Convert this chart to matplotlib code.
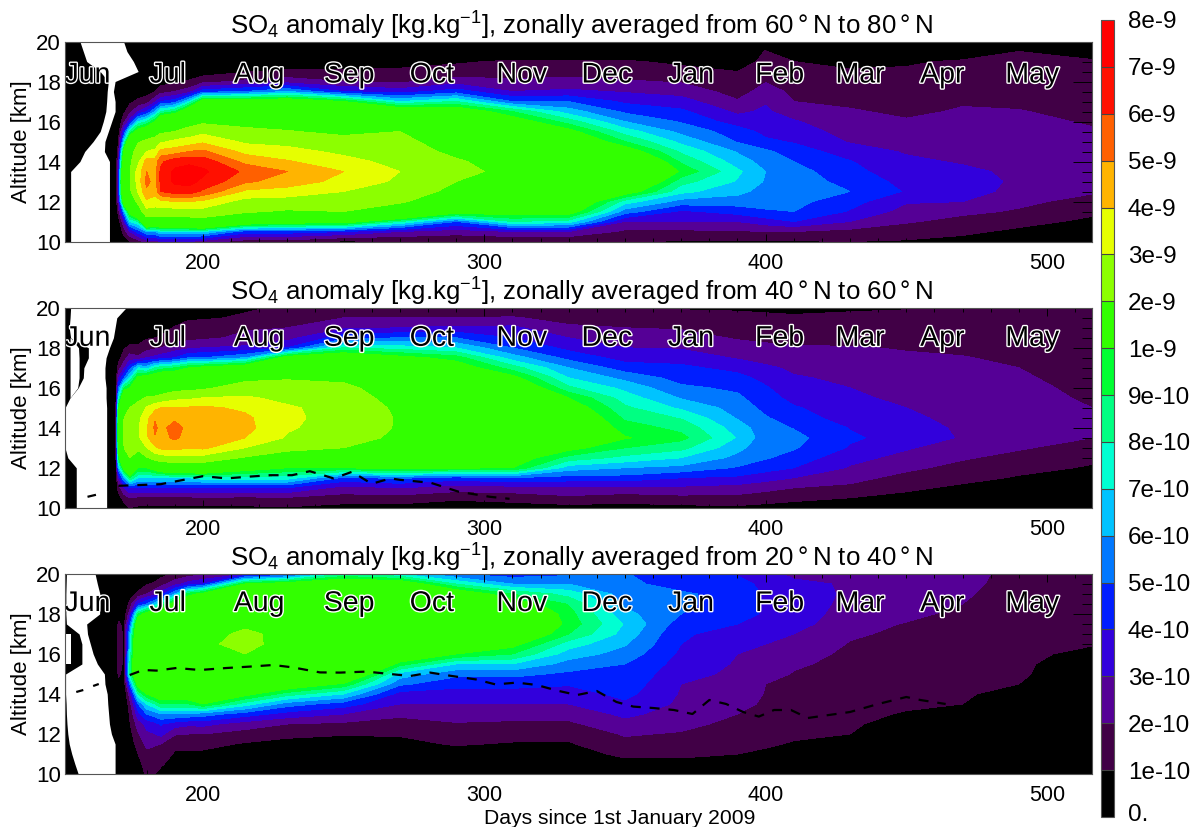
import numpy as np
import matplotlib
matplotlib.use('Agg')
from matplotlib import pyplot as plt
from matplotlib import patheffects as pe
from matplotlib.transforms import ScaledTranslation

plt.rcParams['font.family'] = ['Liberation Sans', 'DejaVu Sans']
plt.rcParams['mathtext.default'] = 'regular'

W, H = 1195, 827
NAN = np.nan

# altitude grid [km], every row below has one value per altitude, unit 1e-10 kg/kg
ALT = [10, 10.5, 11, 11.5, 12, 12.5, 13, 13.5, 14, 14.5, 15, 15.5, 16, 16.5, 17, 17.5, 18, 18.5, 19, 19.5, 20]
EMPTY_DAYS = [151, 160, 169]
DAYS = [170, 172, 174, 177, 180, 183, 185, 190, 195, 200, 215, 230, 250, 270, 290, 310, 330, 350, 370, 390, 400, 410, 430, 450, 470, 490, 516]

SO4_60_80 = [
    [0, 0, .5, 1.5, 2.5, 3.5, 3.5, 3, 2.5, 1.5, 1, .5, .2, 0, 0, 0, 0, 0, 0, 0, 0],
    [.3, 1.5, 3, 6, 12, 15, 16, 15, 13, 11, 7, 4, 1.8, .8, .3, 0, 0, 0, 0, 0, 0],
    [1, 3, 7, 11, 15, 18, 19, 19, 18, 16, 13, 8, 3.5, 1.6, .8, .3, 0, 0, 0, 0, 0],
    [1.5, 4.5, 8, 15, 22, 31, 34, 34, 28, 24, 19, 11, 7, 3, 1.2, .5, 0, 0, 0, 0, 0],
    [2.5, 6, 15, 26, 38, 48, 53, 50, 44, 30, 22, 12, 8, 4, 1.5, .6, .1, 0, 0, 0, 0],
    [2.5, 6, 14, 25, 36, 43, 46, 46, 44, 32, 24, 15, 10, 6, 2.8, 1, .3, .1, 0, 0, 0],
    [3, 7, 14, 25, 37, 60, 62, 62, 58, 43, 28, 18, 13, 8, 4, 1.5, .6, .2, 0, 0, 0],
    [3, 7, 15, 25, 40, 65, 72, 72, 66, 45, 32, 20, 14, 9, 4.5, 2, .8, .3, 0, 0, 0],
    [3, 7, 15, 26, 40, 66, 73, 74, 68, 50, 34, 24, 15, 12, 7, 2.5, 1.1, .4, .1, 0, 0],
    [2.5, 7, 16, 26, 38, 58, 68, 72, 66, 52, 38, 27, 18, 13, 11, 4.5, 1.6, .5, .2, .1, 0],
    [1.5, 4.5, 12, 21, 26, 38, 52, 58, 47, 37, 28, 22, 17, 14, 11, 5, 2.2, .9, .3, .1, 0],
    [1.5, 4.5, 11, 19, 25, 36, 45, 50, 41, 33, 27, 20.5, 16, 14, 11.5, 6, 2.5, 1.2, .4, .1, 0],
    [.8, 4, 11, 20, 26, 30, 37, 40, 33, 28, 23, 18, 14, 12, 10, 4, 2, 1.1, .5, .1, 0],
    [1, 3, 8, 15, 21, 26, 28, 30, 27, 24, 22, 20, 15, 12, 7, 3.5, 1.8, 1.1, .8, .1, 0],
    [1, 2.5, 5, 11, 14, 17, 20, 23, 21, 18, 16, 14, 13, 11.5, 8, 4.5, 2.5, 1.3, .9, .2, 0],
    [1, 3, 8, 11, 13, 15, 16, 17, 16, 15, 14, 12.5, 11, 9, 5, 3, 2.2, 1.5, 1.1, .3, 0],
    [1, 3, 7.5, 11, 12.5, 13.5, 14.5, 15, 14.5, 13.5, 12, 10.5, 8.5, 6.5, 5, 3.2, 2.3, 1.6, 1.1, .3, 0],
    [1.1, 1.8, 3, 5.5, 7.5, 11, 13, 14, 13, 11, 9, 7.5, 6, 4.8, 3.8, 2.9, 2.1, 1.6, 1.1, .3, 0],
    [.9, 1.8, 3, 3.8, 5.6, 7.3, 8.4, 9.8, 8.8, 7.8, 6.7, 5.7, 4.9, 4.2, 3.4, 2.6, 1.9, 1.3, .8, .2, 0],
    [.9, 1.9, 3, 4.4, 5.5, 6.3, 6.9, 7.2, 6.5, 5.9, 4.9, 4.5, 3.5, 2.8, 2.1, 1.6, 1.2, 1, .6, .2, 0],
    [.9, 2, 3.5, 4.9, 5.3, 5.6, 5.9, 6, 5.6, 5.2, 4.2, 3.7, 3.4, 3.15, 2.9, 2.4, 1.95, 1.5, 1.2, 1.05, .6],
    [.9, 2, 4, 5, 5.3, 5.5, 5.6, 5.4, 5, 4.5, 3.9, 3.5, 3.1, 2.5, 2, 1.8, 1.5, 1.3, 1, .3, 0],
    [1, 1.7, 3, 3.9, 4.4, 5, 4.6, 4.3, 4.05, 3.5, 2.9, 2.6, 2.3, 2.1, 1.8, 1.5, 1.3, 1.1, .7, .2, 0],
    [.9, 1.5, 2.1, 2.6, 3.1, 3.9, 3.7, 3.4, 3.2, 2.9, 2.6, 2.4, 2.1, 1.8, 1.6, 1.4, 1.2, 1.1, .9, .2, 0],
    [.7, 1.2, 1.7, 2.2, 3, 3.4, 3.5, 3.2, 2.9, 2.8, 2.6, 2.5, 2.3, 2.1, 1.9, 1.7, 1.4, 1.2, 1.1, .5, 0],
    [.3, .8, 1.3, 1.9, 2.2, 2.7, 2.8, 2.8, 2.7, 2.6, 2.5, 2.4, 2.25, 2.05, 1.8, 1.6, 1.4, 1.25, 1.1, 1, 0],
    [.2, .5, .8, 1.2, 1.7, 2.1, 2.4, 2.5, 2.5, 2.4, 2.3, 2.1, 1.9, 1.7, 1.5, 1.4, 1.3, 1.2, 1.1, .6, 0],
]

SO4_40_60 = [
    [0, .5, 1.5, 3, 6, 9, 10.5, 11, 11, 10.5, 9.5, 7, 5, 3, 1.5, .6, .2, 0, 0, 0, 0],
    [.5, 1.5, 3, 6, 11, 17, 20, 21, 21, 20, 17, 13, 9, 5, 2.8, 1.6, .9, .3, 0, 0, 0],
    [1, 2, 4, 9, 14, 20, 23, 24, 24, 23, 20, 14, 10, 7, 4.5, 2.5, 1.2, .5, .1, 0, 0],
    [.8, 1.8, 4, 7, 10, 15, 22, 28, 29, 27, 23, 18, 14, 10.5, 7, 2.2, 1.2, .6, .2, 0, 0],
    [.8, 1.8, 4, 7, 10, 19, 30, 38, 39, 36, 31, 20.5, 14.5, 11, 6.5, 3, 1.6, .9, .3, 0, 0],
    [.8, 1.8, 4, 7, 11, 23, 38, 49, 52, 49, 37, 21, 15, 11.5, 8, 3.3, 1.8, 1, .4, .05, 0],
    [.8, 1.8, 4, 7, 12, 25, 42, 46, 47, 45, 40, 22, 16, 12, 8.5, 3.5, 2, 1.1, .5, .1, 0],
    [.7, 1.8, 4, 7, 13, 26, 43, 52, 54, 48, 40, 27, 16, 12, 9, 4, 2.5, 1.5, 1.1, .4, .1],
    [.7, 1.8, 4, 7, 13, 26, 41, 46, 47, 45, 41, 28, 17, 13, 10, 5, 2.8, 1.7, 1.3, .9, .2],
    [.8, 1.9, 4, 7.5, 13, 26, 42, 46, 48, 46, 42, 30, 18, 13.5, 10.5, 5, 3, 1.8, 1.4, .9, .3],
    [.8, 1.8, 4, 7.5, 11, 19, 30, 40, 43, 42, 38, 31, 25, 17, 11.5, 6, 3.2, 2.2, 1.9, 1.1, .9],
    [.9, 1.9, 4, 7.5, 10, 16, 22, 29, 31, 31.5, 31, 28, 24, 19, 14, 11, 4, 2.6, 2, 1.3, 1.1],
    [.6, 1.6, 2.6, 4.8, 10, 15, 20, 24, 26, 27, 27, 25, 22, 18, 15, 12, 8, 4.6, 2.8, 2, 1],
    [.6, 1.6, 3, 5.2, 10.5, 12, 15, 18, 19, 19, 18, 16, 15, 13, 12, 10.5, 7.5, 5, 3, 2, 1.1],
    [.4, 1.2, 2.5, 4.5, 10.2, 11.5, 12.5, 13.5, 14.5, 15, 14.5, 14, 13, 12, 11, 9.5, 7, 5, 3.2, 2, 1.1],
    [.5, 1.4, 2.6, 5, 10, 11, 12, 13, 13.5, 13.5, 13, 12.5, 12, 10.5, 8.5, 6.5, 5, 4, 3.2, 2.1, 1.1],
    [.6, 1.8, 2.7, 4.6, 6.5, 8.6, 10.5, 11.5, 12, 11.8, 11, 10, 8.2, 7, 6, 4.7, 3.7, 3, 2.2, 1.6, 1.1],
    [.6, 1.5, 2.7, 4.6, 6, 7.7, 9, 10.1, 9.5, 8.8, 8.2, 7.5, 6.7, 5.7, 4.5, 3.6, 3, 2.5, 2, 1.4, .9],
    [.7, 1.7, 2.8, 4, 5.7, 7, 8.3, 9.3, 8.7, 7.9, 6.8, 5.9, 5.2, 4.6, 4.2, 3.6, 2.9, 2.4, 1.9, 1.4, .9],
    [.8, 1.7, 2.6, 3.8, 4.9, 5.7, 6.3, 6.9, 6.5, 5.9, 5.6, 5.2, 4.8, 4.3, 3.7, 2.9, 2.4, 1.9, 1.6, 1.2, .9],
    [.65, 1.5, 2.3, 3.4, 4.4, 5.1, 5.3, 5.45, 5.4, 5.1, 4.7, 4.4, 4.1, 3.7, 3.2, 2.6, 2.2, 1.8, 1.5, 1.15, .85],
    [.5, 1.3, 2, 3, 4, 4.6, 5.1, 5.3, 4.95, 4.4, 4.1, 3.7, 3.4, 3.1, 2.8, 2.4, 2.1, 1.7, 1.4, 1.1, .8],
    [.4, 1, 1.8, 2.3, 2.9, 3.3, 3.9, 4.15, 3.95, 3.6, 3.4, 3.2, 3, 2.8, 2.55, 2.3, 2.05, 1.7, 1.4, 1.15, .9],
    [.2, .7, 1.2, 1.7, 2.2, 2.7, 3.1, 3.6, 3.4, 3.2, 3, 2.75, 2.55, 2.4, 2.3, 2.1, 1.95, 1.7, 1.4, 1.2, .95],
    [.1, .4, .8, 1.3, 1.7, 2.1, 2.5, 2.9, 2.85, 2.7, 2.6, 2.55, 2.5, 2.4, 2.2, 2.05, 1.8, 1.6, 1.4, 1.2, .95],
    [0, .2, .5, .9, 1.3, 1.7, 2.1, 2.4, 2.5, 2.4, 2.3, 2.25, 2.2, 2.1, 2, 1.8, 1.6, 1.45, 1.3, 1.15, 1],
    [0, .1, .3, .6, .9, 1.2, 1.6, 2, 2.2, 2.1, 2, 1.9, 1.8, 1.7, 1.6, 1.5, 1.4, 1.3, 1.2, 1.1, 1.05],
]

SO4_20_40 = [
    [0, 0, 0, 0, 0, 0, 0, 0, 0, .6, 1.2, 1.4, 1.5, 1.5, 1.5, 1.2, .5, 0, 0, 0, 0],
    [0, 0, 0, 0, 0, 0, 0, 0, 0, .3, .6, .8, .8, .8, .8, .7, .3, 0, 0, 0, 0],
    [0, 0, 0, .3, .6, .9, 1.1, 1.5, 2.5, 5, 8, 8, 7, 6.5, 6, 4.5, 2.5, 1.3, .5, .1, 0],
    [.3, .7, 1, 1.5, 1.9, 2.5, 3.6, 5, 8, 11, 13, 14, 14, 14, 13.5, 12, 9, 4, 1.3, .3, 0],
    [1.2, 1.4, 1.8, 2.2, 2.8, 3.3, 5, 7, 10, 12, 14, 15, 15, 15, 14, 13, 11, 5, 2, .9, .1],
    [1, 1.2, 1.6, 2.1, 3, 3.7, 5.5, 8, 11, 12.5, 14.5, 15.2, 15.2, 15.2, 14.5, 13.5, 11.5, 6.5, 2.7, 1.2, .3],
    [.8, 1.1, 1.5, 2, 3.3, 4.1, 6, 9, 11.5, 13, 15, 15.5, 15.5, 15.5, 15, 14, 12, 8, 3.5, 1.6, .6],
    [.4, .7, .9, 1.2, 2.1, 3.5, 6, 9, 11.5, 13, 15, 16, 16, 16, 15.5, 14.5, 13, 11, 6, 2.6, 1.2],
    [.5, .8, .9, 1.2, 2, 3.2, 5.8, 9, 11.5, 13, 15, 17, 18, 17.5, 17, 15.5, 14, 12, 9.5, 3.5, 1.5],
    [.4, .6, .8, 1.3, 2, 3.3, 5.5, 10, 12, 14, 16, 19, 20, 19, 18, 16, 14, 12, 10.5, 4, 1.8],
    [.1, .2, .4, .9, 1.6, 2.5, 4.5, 7.5, 10.5, 12, 14, 17, 20, 21.5, 21, 19, 16, 14, 12, 10, 3],
    [0, .1, .2, .6, 1.3, 2, 3.6, 5.5, 8.5, 11.5, 14, 16, 17, 18, 18.5, 19.5, 18, 15, 13, 11, 4],
    [0, 0, .1, .4, 1.1, 1.8, 3, 4.5, 7, 9.8, 13, 15, 16, 17, 17.5, 18, 19, 16, 14, 12, 8],
    [0, 0, .1, .7, 1.1, 1.6, 2.2, 3, 3.6, 5.2, 6.6, 9.5, 12, 14, 15, 15.5, 15, 14, 13, 11.5, 7],
    [.1, .2, .5, 1.1, 1.5, 1.9, 2.5, 3, 3.6, 4.3, 5.3, 7, 10, 12, 13, 14, 14, 13, 11.5, 8, 5],
    [.2, .4, .6, .9, 1.4, 1.8, 2.4, 3, 3.6, 4.3, 5.3, 7, 9, 10.5, 12, 13, 12.5, 11, 9, 6, 4.5],
    [.1, .4, .6, .9, 1.3, 1.8, 2.4, 3, 3.5, 4.1, 4.8, 5.6, 6.5, 7.5, 9, 9.6, 9.4, 8.9, 7.6, 6, 4.8],
    [.3, .7, 1.2, 1.7, 2.1, 2.7, 3.2, 3.8, 4.3, 4.6, 4.8, 5, 5.6, 6.1, 6.6, 6.9, 6.3, 5.8, 5.5, 5.3, 5.1],
    [.3, .7, 1.2, 1.6, 1.9, 2.3, 2.6, 2.8, 2.9, 3, 3.3, 3.6, 3.8, 4, 4.1, 4.5, 5, 5.2, 5.2, 4.5, 4],
    [.3, .6, 1, 1.2, 1.4, 1.7, 2, 2.3, 2.5, 2.7, 2.8, 2.9, 3, 3.3, 3.7, 4, 4.3, 4.5, 4.5, 4.4, 3.9],
    [.2, .45, .8, 1.15, 1.3, 1.5, 1.7, 1.85, 1.95, 2, 2.3, 2.6, 2.8, 3, 3.4, 3.7, 3.9, 3.9, 3.9, 3.7, 3.3],
    [.1, .3, .5, .9, 1.2, 1.4, 1.5, 1.7, 1.8, 1.9, 1.95, 2.1, 2.3, 2.6, 3, 3.4, 3.6, 3.6, 3.6, 3.2, 2.8],
    [0, .1, .3, .7, 1, 1.2, 1.3, 1.4, 1.5, 1.6, 1.7, 1.8, 1.85, 1.95, 2.1, 2.3, 2.5, 2.7, 2.8, 2.9, 2.9],
    [0, 0, 0, 0, .1, .4, .9, 1.2, 1.3, 1.4, 1.5, 1.6, 1.7, 1.8, 1.85, 1.95, 2.2, 2.4, 2.5, 2.5, 2.5],
    [0, 0, 0, 0, 0, 0, .4, 1, 1.2, 1.3, 1.35, 1.4, 1.5, 1.55, 1.6, 1.7, 1.8, 2, 2.1, 2.2, 2.2],
    [0, 0, 0, 0, 0, 0, 0, 0, .4, 1, 1.2, 1.3, 1.35, 1.4, 1.45, 1.5, 1.55, 1.6, 1.65, 1.7, 1.8],
    [0, 0, 0, 0, 0, 0, 0, 0, 0, 0, 0, 0, .6, 1.1, 1.2, 1.25, 1.3, 1.35, 1.4, 1.45, 1.5],
]

# no data windows (first day, last day) per altitude, drawn white
GAPS_60_80 = [
    ([153, 153, 153, 153, 153, 153, 153, 153, 156.3, 158, 161, 163.5, 164.6, 165.5, 165.8, 166, 166.4, 163.5, 158.7, 157.5, 156.3],
     [166.8, 166.8, 166.8, 166.8, 166.8, 166.8, 166.8, 166.8, 166.8, 165, 165.2, 166.4, 167.6, 168.8, 168.8, 168.2, 168.8, 177, 175.3, 173, 171.8]),
]
GAPS_40_60 = [
    ([155, 155, 155, 155, 155, 152, 151, 151, 151, 151, 151, 152.8, 155.7, 157.5, 157.7, 159.3, 159.3, 153, 152.5, 152.8, 153],
     [165.8, 165.8, 165.8, 165.8, 165.8, 165.8, 165.8, 165.8, 165.8, 165.8, 165.8, 165.6, 165.6, 165.2, 165.2, 165.6, 166.8, 168.2, 168.8, 169.4, 172.7]),
    ([NAN, NAN, NAN, NAN, NAN, NAN, NAN, NAN, NAN, NAN, NAN, 152.8, 152.8, 152.8, 152.8, 152.8, 152.8, 152.8, NAN, NAN, NAN],
     [NAN, NAN, NAN, NAN, NAN, NAN, NAN, NAN, NAN, NAN, NAN, 152.8, 155.5, 156, 156, 156, 155.8, 153, NAN, NAN, NAN]),
]
GAPS_20_40 = [
    ([155.7, 154.5, 153.4, 152.5, 152, 151.7, 151.5, 151.4, 151.2, 151.2, 151.2, 157, 157, 157, 156, 151.5, 151.3, 151.3, 151.3, 151.4, 151.5],
     [168.8, 168.8, 168.8, 168.8, 167.5, 166.8, 166.5, 166.2, 166, 165.2, 165, 162.5, 161, 160, 159, 158.7, 163.3, 163.4, 163.4, 162.5, 161.7]),
    ([NAN, NAN, NAN, NAN, NAN, NAN, NAN, NAN, NAN, NAN, NAN, 151.2, 151.2, 151.2, 151.2, NAN, NAN, NAN, NAN, NAN, NAN],
     [NAN, NAN, NAN, NAN, NAN, NAN, NAN, NAN, NAN, NAN, NAN, 153, 153, 153, 153, NAN, NAN, NAN, NAN, NAN, NAN]),
]

# tropopause, dashed
TROPO_DAYS_40_60 = [159, 162, 165, 170, 176, 185, 192.5, 200, 208.5, 215.6, 224, 231.7, 238, 246.5, 253, 260, 266.7, 270, 281, 291, 302, 309]
TROPO_ALT_40_60 = [10.55, 10.65, NAN, 11.1, 11.13, 11.18, 11.38, 11.58, 11.47, 11.55, 11.63, 11.63, 11.83, 11.47, 11.8, 11.2, 11.47, 11.4, 11.25, 10.8, 10.55, 10.45]
TROPO_DAYS_20_40 = [155, 157.5, 159, 161, 163, 165, 174, 178.8, 183.5, 190.6, 198.9, 208.4, 216.7, 225, 232, 241.6, 248.7, 258.2, 266.5, 273.7, 280.8, 288.5, 297, 304, 311.6, 318.7, 325.9, 333, 340, 347, 353, 360, 367.4, 374, 380, 386, 392, 397.6, 403, 409, 415, 425, 430, 440, 450, 455, 464]
TROPO_ALT_20_40 = [14.1, 14.2, NAN, 14.4, 14.5, NAN, 14.95, 15.2, 15.17, 15.3, 15.2, 15.3, 15.37, 15.45, 15.33, 15.08, 15.07, 15.12, 15.0, 14.9, 15.07, 14.9, 14.73, 14.48, 14.57, 14.45, 14.17, 13.95, 14.15, 13.6, 13.37, 13.3, 13.2, 13.0, 13.7, 13.5, 13.1, 12.87, 13.2, 13.2, 12.8, 13.0, 13.1, 13.5, 13.85, 13.7, 13.5]

LATS = ['60', '40', '20']
LATS_TOP = ['80', '60', '40']

MONTHS = ['Jun', 'Jul', 'Aug', 'Sep', 'Oct', 'Nov', 'Dec', 'Jan', 'Feb', 'Mar', 'Apr', 'May']
MONTH_DAYS = [159, 187.5, 220, 252, 281.4, 313.4, 343.6, 373.5, 405, 433.6, 462.8, 494.8]
MONTH_ALT = [18.3, 18.45, 18.5]

LEVELS = [0, 1, 2, 3, 4, 5, 6, 7, 8, 9, 10, 20, 30, 40, 50, 60, 70, 80]
LEVEL_LABELS = ['0.', '1e-10', '2e-10', '3e-10', '4e-10', '5e-10', '6e-10', '7e-10', '8e-10', '9e-10',
                '1e-9', '2e-9', '3e-9', '4e-9', '5e-9', '6e-9', '7e-9', '8e-9']
COLORS = ['#000000', '#410046', '#550096', '#3200dc', '#001eff', '#0078ff', '#00c3ff', '#00ffd2', '#00ff82',
          '#00ff32', '#32ff00', '#8cff00', '#e6ff00', '#ffb400', '#ff6000', '#ff1000', '#ff0000']

PANELS = [
    (241.5, SO4_60_80, GAPS_60_80, None, None),
    (507.8, SO4_40_60, GAPS_40_60, TROPO_DAYS_40_60, TROPO_ALT_40_60),
    (774, SO4_20_40, GAPS_20_40, TROPO_DAYS_20_40, TROPO_ALT_20_40),
]

fig = plt.figure(figsize=(W / 100, H / 100), dpi=100)

all_days = np.array(EMPTY_DAYS + DAYS)
for p, (bottom, rows, gaps, tropo_d, tropo_a) in enumerate(PANELS):
    ax = fig.add_axes([65 / W, 1 - bottom / H, 1027 / W, 200 / H])
    z = np.vstack([np.zeros((len(EMPTY_DAYS), len(ALT))), np.array(rows, dtype=float)]).T
    cf = ax.contourf(all_days, ALT, z, levels=LEVELS, colors=COLORS)
    for start, end in gaps:
        ax.fill_betweenx(ALT, start, end, color='white', lw=0, zorder=2)
    if tropo_d is not None:
        ax.plot(tropo_d, tropo_a, color='black', lw=1.6, ls=(0, (4.5, 4)), zorder=3)

    ax.set_xlim(151, 516)
    ax.set_ylim(10, 20)
    ax.set_xticks([200, 300, 400, 500])
    ax.set_xticks(np.arange(160, 516, 10), minor=True)
    ax.set_yticks(np.arange(10, 21, 2))
    ax.set_yticks(np.arange(10, 20.5, .5), minor=True)
    ax.tick_params(axis='x', which='major', direction='in', top=True, length=6, width=.7, labelsize=15.5, pad=8)
    ax.tick_params(axis='x', which='minor', direction='in', top=True, length=3, width=.7)
    ax.tick_params(axis='y', which='major', direction='in', right=True, length=14, width=.7, labelsize=16, pad=3)
    ax.tick_params(axis='y', which='minor', direction='in', right=True, length=7, width=.7)
    for s in ax.spines.values():
        s.set_linewidth(.8)
        s.set_color('#555555')
        s.set_zorder(5)
    ax.set_ylabel('Altitude [km]', fontsize=16, labelpad=3)
    ax.set_title('SO$_4$ anomaly [kg.kg$^{-1}$], zonally averaged from %s$\\,$°$\\,$N to %s$\\,$°$\\,$N' % (LATS[p], LATS_TOP[p]),
                 fontsize=18.6, pad=5, x=.503)
    for m, d in zip(MONTHS, MONTH_DAYS):
        ax.text(d, MONTH_ALT[p], m, fontsize=20.5, ha='center', va='center', color='black', zorder=4,
                path_effects=[pe.withStroke(linewidth=2, foreground='white')])
    if p == 2:
        ax.set_xlabel('Days since 1st January 2009', fontsize=15.2, labelpad=2, x=.54)

cax = fig.add_axes([1101 / W, 1 - 817 / H, 13 / W, 797 / H])
cb = fig.colorbar(cf, cax=cax, spacing='uniform', drawedges=True)
cb.set_ticks(LEVELS)
cb.set_ticklabels(LEVEL_LABELS)
cb.ax.minorticks_off()
cb.ax.tick_params(length=0, labelsize=17.5, pad=10)
labels = cb.ax.get_yticklabels()
for lab in labels:
    lab.set_va('center_baseline')
# "0." sits at the very bottom of the figure, lift it a little so it stays inside
labels[0].set_transform(labels[0].get_transform() + ScaledTranslation(0, 3 / 72, fig.dpi_scale_trans))
cb.outline.set_linewidth(.8)
cb.outline.set_edgecolor('#555555')
cb.dividers.set_linewidth(.8)
cb.dividers.set_color('#444444')

fig.savefig('out.png', dpi=100)
